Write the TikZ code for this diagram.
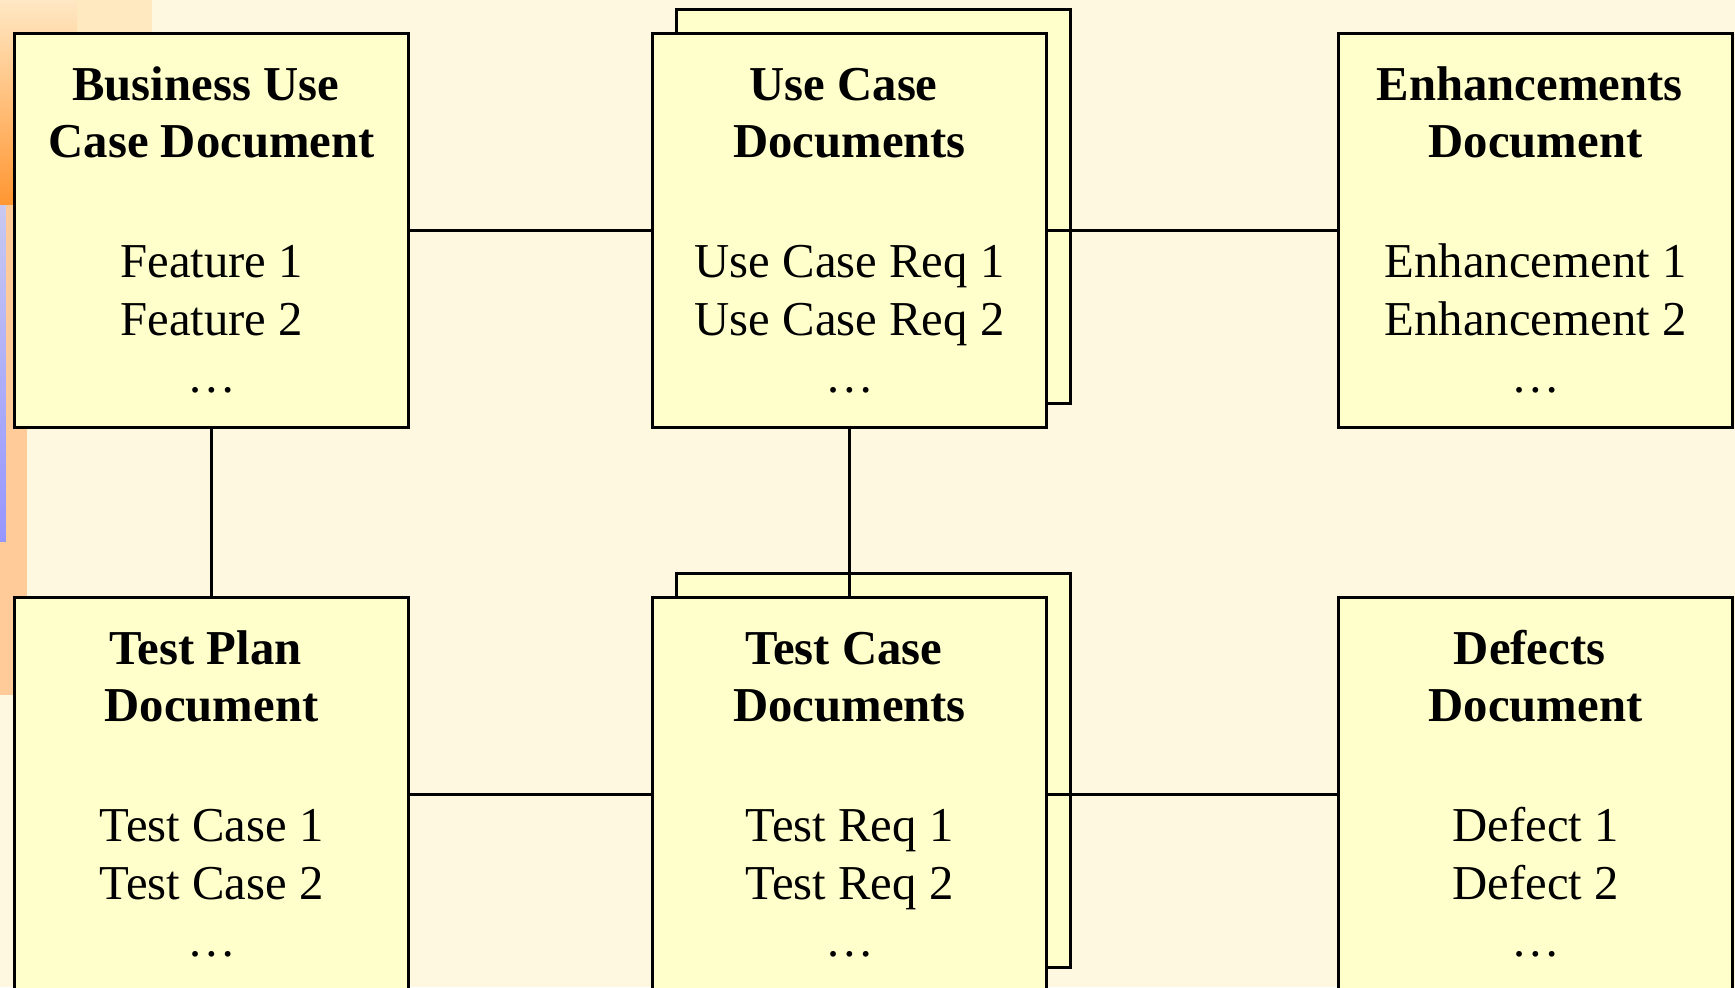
\documentclass[tikz,border=0pt]{standalone}
\usepackage{fontspec}
\setmainfont{Liberation Serif}
\definecolor{bg}{RGB}{255,248,225}
\definecolor{boxfill}{RGB}{255,255,204}
\definecolor{peach}{RGB}{255,204,153}
\definecolor{lightpeach}{RGB}{255,233,192}
\definecolor{orangetop}{RGB}{255,232,196}
\definecolor{orangebot}{RGB}{255,150,50}
\definecolor{bluetop}{RGB}{200,200,240}
\definecolor{bluebot}{RGB}{150,150,255}
\newcommand{\firstln}[1]{\textbf{\vphantom{fdB}#1}\kern3.4pt}
\begin{document}
\begin{tikzpicture}[x=0.01cm,y=-0.01cm,
  doc/.style={draw=black, fill=boxfill, line width=0.85pt, minimum width=3.94cm, minimum height=3.94cm, inner sep=0pt, anchor=north west},
  lbl/.style={align=center, inner sep=0pt, anchor=north, font=\fontsize{13.85pt}{16.4pt}\selectfont},
  link/.style={line width=0.75pt}]
\useasboundingbox (0,0) rectangle (1735,987);
\clip (0,0) rectangle (1735,987);
% background
\fill[bg] (0,0) rectangle (1735,987);
% left decoration
\fill[lightpeach] (77,0) rectangle (152,205);
\shade[top color=orangetop, bottom color=orangebot] (0,0) rectangle (77,205);
\fill[peach] (0,205) rectangle (152,428);
\fill[peach] (0,205) rectangle (27,695);
\shade[top color=bluetop, bottom color=bluebot] (0,205) rectangle (6,541);
% back sheets
\node[doc] (ucback) at (675,8) {};
\node[doc] (tcback) at (675,572) {};
% front boxes
\node[doc] (bu) at (13,32) {};
\node[doc] (uc) at (651,32) {};
\node[doc] (en) at (1337,32) {};
\node[doc] (tp) at (13,596) {};
\node[doc] (tc) at (651,596) {};
\node[doc] (de) at (1337,596) {};
% texts
\node[lbl] (bu-t) at ([yshift=-0.33cm]bu.north) {\firstln{Business Use}\\ \textbf{Case Document}\\[17.7pt] Feature 1\\ Feature 2\\ …};
\node[lbl] (uc-t) at ([yshift=-0.33cm]uc.north) {\firstln{Use Case}\\ \textbf{Documents}\\[17.7pt] Use Case Req 1\\ Use Case Req 2\\ …};
\node[lbl] (en-t) at ([yshift=-0.33cm]en.north) {\firstln{Enhancements}\\ \textbf{Document}\\[17.7pt] Enhancement 1\\ Enhancement 2\\ …};
\node[lbl] (tp-t) at ([yshift=-0.33cm]tp.north) {\firstln{Test Plan}\\ \textbf{Document}\\[17.7pt] Test Case 1\\ Test Case 2\\ …};
\node[lbl] (tc-t) at ([yshift=-0.33cm]tc.north) {\firstln{Test Case}\\ \textbf{Documents}\\[17.7pt] Test Req 1\\ Test Req 2\\ …};
\node[lbl] (de-t) at ([yshift=-0.33cm]de.north) {\firstln{Defects}\\ \textbf{Document}\\[17.7pt] Defect 1\\ Defect 2\\ …};
% connectors
\draw[link] (bu.east) -- (uc.west);
\draw[link] (uc.east) -- (en.west);
\draw[link] (tp.east) -- (tc.west);
\draw[link] (tc.east) -- (de.west);
\draw[link] (bu.south) -- (tp.north);
\draw[link] (uc.south) -- (tc.north);
\end{tikzpicture}
\end{document}
